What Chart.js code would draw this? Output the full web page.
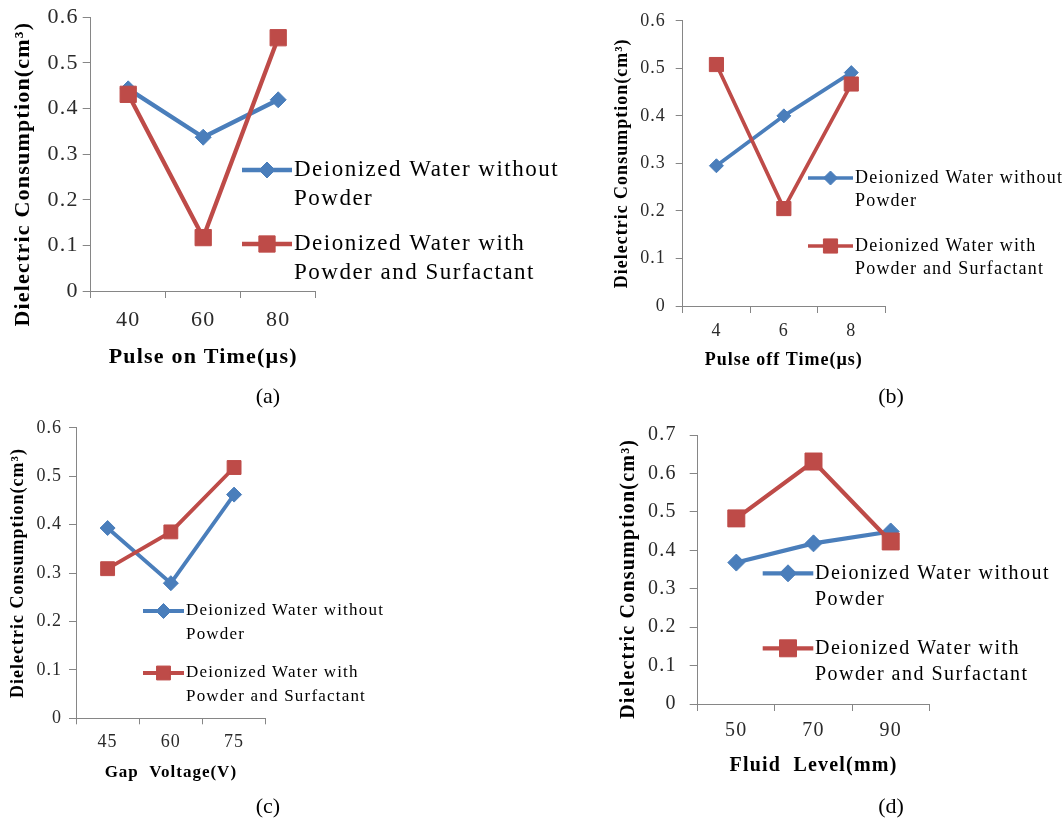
<!DOCTYPE html>
<html><head><meta charset="utf-8">
<script src="https://cdn.jsdelivr.net/npm/chart.js@4"></script>
<style>
html,body{margin:0;padding:0;background:#fff;}
#wrap{position:relative;width:1064px;height:820px;overflow:hidden;background:#fff;}
#wrap canvas{position:absolute;}
.cap{position:absolute;width:60px;text-align:center;font:22px "Liberation Serif",serif;line-height:24px;color:#000;}
</style></head><body>
<div id="wrap">
<canvas id="ca" width="560" height="410" style="left:0;top:0"></canvas>
<canvas id="cb" width="504" height="410" style="left:560px;top:0"></canvas>
<canvas id="cc" width="560" height="410" style="left:0;top:410px"></canvas>
<canvas id="cd" width="504" height="410" style="left:560px;top:410px"></canvas>
</div>
<script>
// ---------- data ----------
const yTitle = 'Dielectric Consumption(cm³)';
const seriesNames = ['Deionized Water without Powder', 'Deionized Water with Powder and Surfactant'];
const legendLines = [['Deionized Water without', 'Powder'], ['Deionized Water with', 'Powder and Surfactant']];

const pulseOnTime = ['40', '60', '80'];
const pulseOnWithout = [0.443, 0.337, 0.419];
const pulseOnWith = [0.431, 0.117, 0.555];

const pulseOffTime = ['4', '6', '8'];
const pulseOffWithout = [0.295, 0.400, 0.491];
const pulseOffWith = [0.508, 0.205, 0.467];

const gapVoltage = ['45', '60', '75'];
const gapWithout = [0.393, 0.279, 0.462];
const gapWith = [0.309, 0.385, 0.518];

const fluidLevel = ['50', '70', '90'];
const fluidWithout = [0.368, 0.418, 0.449];
const fluidWith = [0.483, 0.631, 0.423];

const xTitles = ['Pulse on Time(µs)', 'Pulse off Time(µs)', 'Gap  Voltage(V)', 'Fluid  Level(mm)'];
const captions = ['(a)', '(b)', '(c)', '(d)'];
const yMaxima = [0.6, 0.6, 0.6, 0.7];

// ---------- styling ----------
const FONT = '"Liberation Serif", "Times New Roman", serif';
const BLUE = '#4A7EBB';
const RED = '#BE4B48';
const AXIS = '#868686';
const TICK = '#2a2a2a';

const spacingPlugin = {
  id: 'letterSpace',
  beforeDraw(chart, args, opts) { chart.ctx.letterSpacing = (opts.px || 0) + 'px'; }
};

function marker(ctx, style, r, x, y) {
  ctx.beginPath();
  if (style === 'rectRot') {
    ctx.moveTo(x, y - r); ctx.lineTo(x + r, y); ctx.lineTo(x, y + r); ctx.lineTo(x - r, y);
  } else {
    const s = r * Math.SQRT1_2;
    ctx.rect(x - s, y - s, 2 * s, 2 * s);
  }
  ctx.closePath();
  ctx.fill();
  ctx.stroke();
}

const sideLegend = {
  id: 'sideLegend',
  afterDraw(chart, args, o) {
    const ctx = chart.ctx;
    ctx.save();
    chart.data.datasets.forEach((ds, i) => {
      const y = o.ys[i];
      ctx.strokeStyle = ds.borderColor; ctx.lineWidth = ds.borderWidth;
      ctx.beginPath(); ctx.moveTo(o.x0, y); ctx.lineTo(o.x1, y); ctx.stroke();
      ctx.fillStyle = ds.backgroundColor; ctx.lineWidth = 1;
      marker(ctx, ds.pointStyle, ds.pointRadius, (o.x0 + o.x1) / 2, y);
      ctx.fillStyle = '#000'; ctx.font = o.size + 'px ' + FONT;
      ctx.textBaseline = 'middle'; ctx.textAlign = 'left';
      ctx.letterSpacing = o.spacing + 'px';
      legendLines[i].forEach((t, j) => ctx.fillText(t, o.tx, y + j * o.gap));
    });
    ctx.restore();
  }
};

function makeChart(id, cats, without, withP, xTitle, yMax, s) {
  new Chart(document.getElementById(id), {
    type: 'line',
    data: {
      labels: cats,
      datasets: [
        { label: seriesNames[0], data: without, borderColor: BLUE, backgroundColor: BLUE,
          borderWidth: s.lineW, pointStyle: 'rectRot', pointRadius: s.dR, pointBorderWidth: 1,
          pointBackgroundColor: BLUE, pointBorderColor: BLUE, tension: 0, order: 1 },
        { label: seriesNames[1], data: withP, borderColor: RED, backgroundColor: RED,
          borderWidth: s.lineW, pointStyle: 'rect', pointRadius: s.sR, pointBorderWidth: 1,
          pointBackgroundColor: RED, pointBorderColor: RED, tension: 0, order: 0 }
      ]
    },
    options: {
      responsive: false, animation: false, devicePixelRatio: 1,
      layout: { padding: s.pad },
      plugins: {
        legend: { display: false }, tooltip: { enabled: false },
        letterSpace: { px: s.ls },
        sideLegend: s.legend
      },
      scales: {
        x: {
          type: 'category', offset: true,
          grid: { offset: true, drawOnChartArea: false, drawTicks: true, tickLength: s.xTL, color: AXIS, lineWidth: 1 },
          border: { display: true, color: AXIS, width: 1 },
          ticks: { font: { family: FONT, size: s.tick }, color: TICK, padding: s.xTP, maxRotation: 0, autoSkip: false },
          title: { display: true, text: xTitle, font: { family: FONT, size: s.xT, weight: 'bold' }, color: '#000', padding: 0 },
          afterFit(sc) { sc.height = s.xH; }
        },
        y: {
          min: 0, max: yMax,
          ticks: { stepSize: 0.1, font: { family: FONT, size: s.tick }, color: TICK, padding: s.yTP,
                   callback: v => (Math.abs(v) < 1e-9 ? '0' : v.toFixed(1)) },
          grid: { drawOnChartArea: false, drawTicks: true, tickLength: s.yTL, color: AXIS, lineWidth: 1 },
          border: { display: true, color: AXIS, width: 1 },
          title: { display: true, text: yTitle + ' '.repeat(s.yShift), font: { family: FONT, size: s.yT, weight: 'bold' }, color: '#000', padding: 0 },
          afterFit(sc) { sc.width = s.yW; }
        }
      }
    },
    plugins: [spacingPlugin, sideLegend]
  });
}

makeChart('ca', pulseOnTime, pulseOnWithout, pulseOnWith, xTitles[0], yMaxima[0], {
  pad: { left: 10.3, top: 16, right: 244.3, bottom: 39.8 }, yW: 80.4, xH: 79.2,
  tick: 22, xT: 22, yT: 22, ls: 1.2, yShift: 6,
  xTL: 7, xTP: 9, yTL: 8, yTP: 4, lineW: 4.3, dR: 8, sR: 11.5,
  legend: { x0: 242, x1: 292, tx: 294, ys: [170, 244], gap: 28.5, size: 23, spacing: 1.5 }
});
makeChart('cb', pulseOffTime, pulseOffWithout, pulseOffWith, xTitles[1], yMaxima[1], {
  pad: { left: 51.7, top: 15.7, right: 179, bottom: 39.2 }, yW: 71, xH: 64.8,
  tick: 18, xT: 18, yT: 18, ls: 1, yShift: 0,
  xTL: 7, xTP: 7, yTL: 7, yTP: 10, lineW: 3.7, dR: 7, sR: 10,
  legend: { x0: 248, x1: 293, tx: 295, ys: [178, 246], gap: 23, size: 18, spacing: 1.2 }
});
makeChart('cc', gapVoltage, gapWithout, gapWith, xTitles[2], yMaxima[2], {
  pad: { left: 7.7, top: 11, right: 294.3, bottom: 36.8 }, yW: 68.3, xH: 64.9,
  tick: 18, xT: 17, yT: 18, ls: 1, yShift: 0,
  xTL: 6, xTP: 7, yTL: 7, yTP: 7, lineW: 3.8, dR: 7.5, sR: 9.8,
  legend: { x0: 143, x1: 184, tx: 186, ys: [201, 263], gap: 24, size: 17, spacing: 1.2 }
});
makeChart('cd', fluidLevel, fluidWithout, fluidWith, xTitles[3], yMaxima[3], {
  pad: { left: 56.5, top: 14, right: 134.7, bottom: 42 }, yW: 81.2, xH: 74,
  tick: 20, xT: 20, yT: 20, ls: 1.2, yShift: 3,
  xTL: 7, xTP: 8, yTL: 8, yTP: 13, lineW: 4.2, dR: 8.5, sR: 12,
  legend: { x0: 202.7, x1: 253.3, tx: 255, ys: [163.3, 238.3], gap: 26.5, size: 20, spacing: 1.5 }
});

// captions
const capPos = [[268, 396], [891, 396], [268, 806], [891, 806]];
const wrap = document.getElementById('wrap');
captions.forEach((c, i) => {
  const d = document.createElement('div');
  d.className = 'cap'; d.textContent = c;
  d.style.left = (capPos[i][0] - 30) + 'px'; d.style.top = (capPos[i][1] - 12) + 'px';
  wrap.appendChild(d);
});
</script>
</body></html>
